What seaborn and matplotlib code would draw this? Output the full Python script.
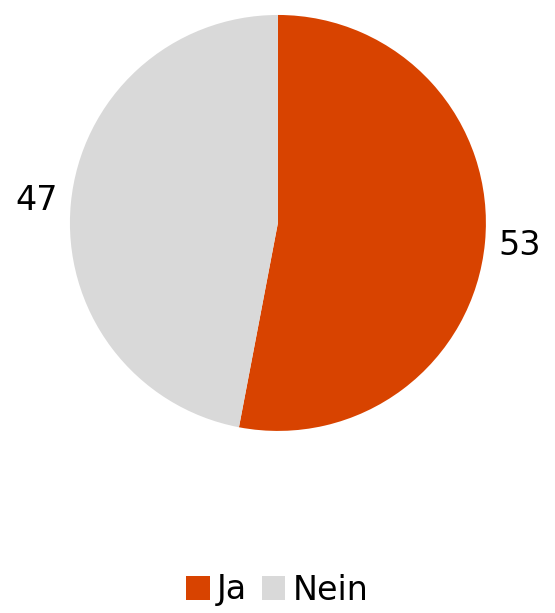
import matplotlib
matplotlib.use("Agg")
import matplotlib.pyplot as plt
import seaborn as sns
from matplotlib.patches import Patch

categories = ["Ja", "Nein"]
values = [53, 47]
colors = ["#D84300", "#D9D9D9"]

sns.set_theme(style="white")
plt.rcParams["font.family"] = ["DejaVu Sans"]

fig = plt.figure(figsize=(5.55, 6.13), dpi=100)
ax = fig.add_axes([0.126, 0.297, 0.7495, 0.6786])

wedges, texts = ax.pie(
    values,
    labels=[str(v) for v in values],
    colors=colors,
    startangle=90,
    counterclock=False,
    labeldistance=1.165,
    wedgeprops=dict(linewidth=0),
    textprops=dict(fontsize=24, color="#000000"),
)
for t in texts:
    t.set_horizontalalignment("center")
    t.set_verticalalignment("center")
ax.set_aspect("equal")
ax.set_xlim(-1, 1)
ax.set_ylim(-1, 1)

handles = [Patch(facecolor=c, edgecolor="none", label=l) for c, l in zip(colors, categories)]
leg = fig.legend(
    handles=handles,
    loc="center",
    bbox_to_anchor=(0.5, 1 - 590 / 613),
    ncol=2,
    frameon=False,
    fontsize=24,
    handlelength=0.7,
    handleheight=0.7,
    handletextpad=0.22,
    columnspacing=0.45,
)
for t in leg.get_texts():
    t.set_color("#000000")

fig.savefig("out.png", dpi=100)
